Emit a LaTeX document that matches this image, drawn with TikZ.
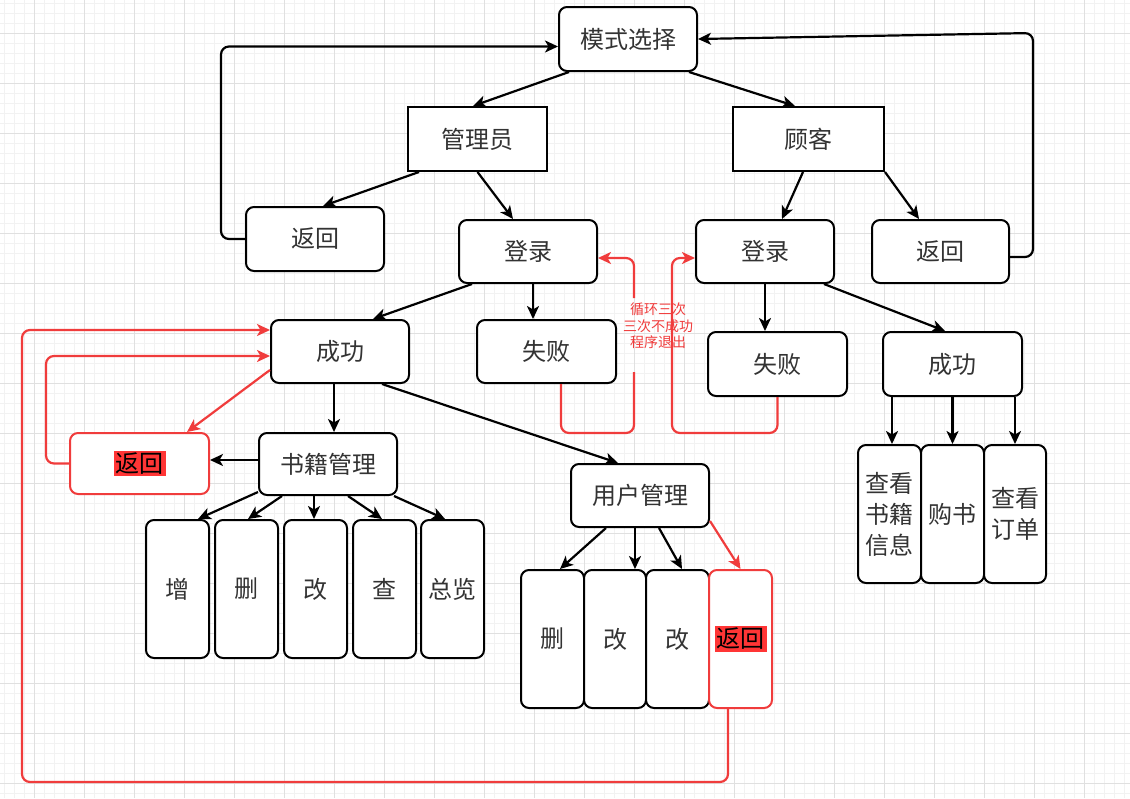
\documentclass[tikz,border=0pt]{standalone}
\usepackage{fontspec}
\setmainfont{Noto Sans CJK SC}
\usetikzlibrary{arrows.meta}
\definecolor{gminor}{HTML}{F2F2F2}
\definecolor{gmajor}{HTML}{E0E0E0}
\definecolor{myred}{HTML}{F03C3C}
\definecolor{hlred}{HTML}{FF3535}
\definecolor{txt}{HTML}{333333}
\begin{document}
\begin{tikzpicture}[x=1pt,y=-1pt,
 box/.style={draw, line width=2pt, rounded corners=8pt, fill=white, text=txt, font=\fontsize{24}{31}\selectfont, align=center, inner sep=0pt},
 sq/.style={box, rounded corners=0pt},
 rbox/.style={box, draw=myred},
 con/.style={line width=2.2pt, -{Stealth[length=13pt,width=12pt,inset=3.5pt]}},
 rcon/.style={con, draw=myred},
 lbl/.style={text=myred, font=\fontsize{14}{16.5}\selectfont, align=center, inner sep=0pt}
]
\useasboundingbox (0,0) rectangle (1130,798);
\fill[white] (0,0) rectangle (1130,798);
\foreach \i in {0,...,112} \draw[gminor, line width=1pt] (4+10*\i,0) -- (4+10*\i,798);
\foreach \i in {0,...,79} \draw[gminor, line width=1pt] (0,3+10*\i) -- (1130,3+10*\i);
\foreach \i in {0,...,21} \draw[gmajor, line width=1pt] (34+50*\i,0) -- (34+50*\i,798);
\foreach \i in {0,...,15} \draw[gmajor, line width=1pt] (0,33+50*\i) -- (1130,33+50*\i);

% nodes
\node[box, minimum width=138pt, minimum height=64pt] (moshi) at (628,39) {模式选择};
\node[sq, minimum width=139pt, minimum height=64pt] (admin) at (477.5,139) {管理员};
\node[sq, minimum width=151pt, minimum height=64pt] (cust) at (808.5,139) {顾客};
\node[box, minimum width=138pt, minimum height=64pt] (ret1) at (315,239) {返回};
\node[box, minimum width=138pt, minimum height=63pt] (login1) at (528,251.5) {登录};
\node[box, minimum width=138pt, minimum height=63pt] (login2) at (765,251.5) {登录};
\node[box, minimum width=137pt, minimum height=63pt] (ret2) at (940.5,251.5) {返回};
\node[box, minimum width=138pt, minimum height=63pt] (succ1) at (340,351.5) {成功};
\node[box, minimum width=139pt, minimum height=63pt] (fail1) at (546.5,351.5) {失败};
\node[box, minimum width=139pt, minimum height=64pt] (fail2) at (777.5,364) {失败};
\node[box, minimum width=139pt, minimum height=64pt] (succ2) at (952.5,364) {成功};
\node[rbox, minimum width=139pt, minimum height=61pt] (retA) at (139.5,463.5) {\setlength{\fboxsep}{2pt}\colorbox{hlred}{\color{black}返回}};
\node[box, minimum width=138pt, minimum height=62pt] (book) at (328,464) {书籍管理};
\node[box, minimum width=138pt, minimum height=63pt] (user) at (640,495.5) {用户管理};

\node[box, minimum width=63pt, minimum height=138pt] (b1) at (177.5,589) {增};
\node[box, minimum width=63pt, minimum height=138pt] (b2) at (246.5,589) {删};
\node[box, minimum width=63pt, minimum height=138pt] (b3) at (315.5,589) {改};
\node[box, minimum width=63pt, minimum height=138pt] (b4) at (384.5,589) {查};
\node[box, minimum width=63pt, minimum height=138pt] (b5) at (452.5,589) {总览};

\node[box, minimum width=63pt, minimum height=138pt] (u1) at (552.5,639) {删};
\node[box, minimum width=62pt, minimum height=138pt] (u2) at (615,639) {改};
\node[box, minimum width=63pt, minimum height=138pt] (u3) at (677.5,639) {改};
\node[rbox, minimum width=63pt, minimum height=138pt] (u4) at (740.5,639) {\setlength{\fboxsep}{2pt}\colorbox{hlred}{\color{black}返回}};

\node[box, minimum width=63pt, minimum height=138pt] (c1) at (889.5,514) {查看\\书籍\\信息};
\node[box, minimum width=63pt, minimum height=138pt] (c2) at (952.5,514) {购书};
\node[box, minimum width=62pt, minimum height=138pt] (c3) at (1015,514) {查看\\订单};

\node[lbl] (lab) at (658,326) {循环三次\\三次不成功\\程序退出};
\coordinate (rc) at (1033,33);

% black connectors
\draw[con] ([xshift=11pt]moshi.south west) -- ([xshift=-4.5pt]admin.north);
\draw[con] ([xshift=-9pt]moshi.south east) -- ([xshift=-13.5pt]cust.north);
\draw[con] ([xshift=12pt]admin.south west) -- ([xshift=8pt]ret1.north);
\draw[con] (admin.south) -- ([xshift=-15pt]login1.north);
\draw[con] ([xshift=-5.5pt]cust.south) -- ([xshift=17pt]login2.north);
\draw[con] (cust.south east) -- ([xshift=-21.5pt]ret2.north);
\draw[con] ([xshift=-56pt]login1.south) -- ([xshift=33pt]succ1.north);
\draw[con] ([xshift=5pt]login1.south) -- ([xshift=-13.5pt]fail1.north);
\draw[con] (login2.south) -- ([xshift=-12.5pt]fail2.north);
\draw[con] ([xshift=-11pt]login2.south east) -- ([xshift=-7.5pt]succ2.north);
\draw[con] ([xshift=-6pt]succ1.south) -- ([xshift=6pt]book.north);
\draw[con] ([xshift=42pt]succ1.south) -- ([xshift=-22pt]user.north);
\draw[con] ([yshift=4pt]book.west) -- ([yshift=3.5pt]retA.east);
\draw[con] ([yshift=4pt]book.south west) -- ([xshift=20.5pt]b1.north);
\draw[con] ([xshift=24pt]book.south west) -- ([xshift=1.5pt]b2.north);
\draw[con] ([xshift=-14pt]book.south) -- ([xshift=-1.5pt]b3.north);
\draw[con] ([xshift=20pt]book.south) -- ([xshift=-2.5pt]b4.north);
\draw[con] ([xshift=-4pt]book.south east) -- ([xshift=-7.5pt]b5.north);
\draw[con] ([xshift=-34pt]user.south) -- ([xshift=7.5pt]u1.north);
\draw[con] ([xshift=-5pt]user.south) -- ([xshift=20pt]u2.north);
\draw[con] ([xshift=19pt]user.south) -- ([xshift=4.5pt]u3.north);
\draw[con] ([xshift=-60.5pt]succ2.south) -- ([xshift=2.5pt]c1.north);
\draw[con] (succ2.south) -- (c2.north);
\draw[con] ([xshift=62.5pt]succ2.south) -- (c3.north);
\draw[con, rounded corners=8pt] (ret1.west) -- ++(-24,0) |- ([yshift=-7.5pt]moshi.west);
\draw[con, rounded corners=8pt] ([yshift=-5.5pt]ret2.east) -| (rc) -- (moshi.east);

% red connectors
\draw[rcon] ([yshift=7pt]user.south east) -- (u4.north);
\draw[rcon, rounded corners=8pt] ([xshift=14.5pt]fail1.south) |- (634,433) -- (634,372) (634,298) |- ([yshift=-6.5pt]login1.east);
\draw[rcon, rounded corners=8pt] (fail2.south) |- (672,433) |- ([yshift=-6.5pt]login2.west);
\draw[rcon, rounded corners=8pt] ([xshift=-12.5pt]u4.south) |- (22,782) |- ([yshift=21.5pt]succ1.west);
\draw[rcon, rounded corners=8pt] (retA.west) -- ++(-23,0) |- ([yshift=-4.5pt]succ1.west);
\draw[rcon] ([yshift=-18.5pt]succ1.west) -- ([xshift=47.5pt]retA.north);
\end{tikzpicture}
\end{document}
